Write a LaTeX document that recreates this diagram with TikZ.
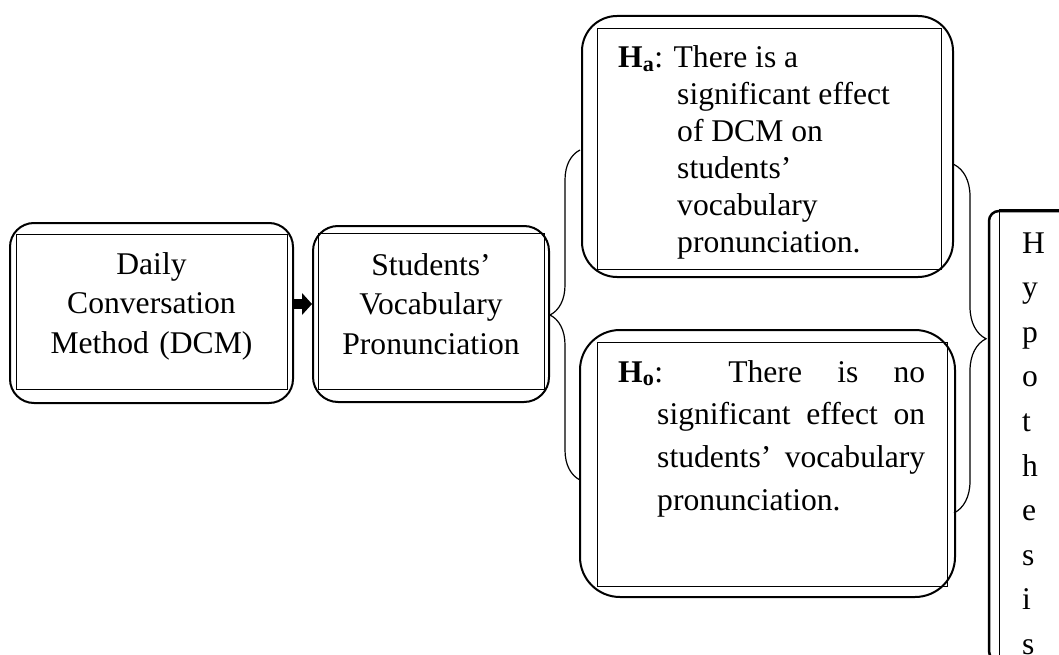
\documentclass[tikz,border=0pt]{standalone}
\usepackage{fontspec}
\setmainfont{Liberation Serif}
\usetikzlibrary{calc,arrows.meta,decorations.pathreplacing}

\tikzset{
  outerbox/.style={draw, line width=2pt, rounded corners=#1, inner sep=0pt},
  outerbox/.default=25,
  innerline/.style={draw, line width=1pt},
  boxtext/.style={inner sep=0pt, font=\fontsize{31.6}{39.5}\selectfont},
  blockarrow/.style={line width=10pt, -{Triangle[length=10pt,width=22pt,line width=0pt]}},
  bracket/.style={decorate, decoration={brace, amplitude=#1}, line width=1.2pt},
}

\begin{document}
\begin{tikzpicture}[x=1pt,y=-1pt]
				\useasboundingbox (0,0) rectangle (1059,655);
				\clip (0,0) rectangle (1059,655);
				
				\node[outerbox=24, minimum width=283, minimum height=180] (dcm) at (151.5,313) {};
				\draw[innerline] ([shift={(7,12)}]dcm.north west) rectangle ([shift={(-7,-15)}]dcm.south east);
				\node[boxtext, text width=270, align=center, anchor=base] (dcmtxt) at (151.5,274) {Daily\\Conversation\\Method (DCM)};
				
				\node[outerbox=25, minimum width=236, minimum height=176] (svp) at (431,314) {};
				\draw[innerline] ([shift={(6,8)}]svp.north west) rectangle ([shift={(-6,-14)}]svp.south east);
				\node[boxtext, text width=224, align=center, anchor=base] (svptxt) at (431,275) {Students'\\Vocabulary\\Pronunciation};
				
				\draw[blockarrow] ([shift={(0,-9)}]dcm.east) -- ([shift={(0,-10)}]svp.west);
				
				\node[outerbox=35, minimum width=371, minimum height=261] (ha) at (767.5,146.5) {};
				\draw[innerline] ([shift={(16,14)}]ha.north west) rectangle ([shift={(-13,-9)}]ha.south east);
				\node[boxtext, font=\fontsize{31.6}{37}\selectfont, text width=300, align=flush left, anchor=base west] (hatxt) at (618,68)
				{\leftskip=59pt\hspace*{-59pt}\textbf{H\textsubscript{a}}: There is a\newline significant effect\newline of DCM on\newline students'\newline vocabulary\newline pronunciation.\par};
				
				\node[outerbox=40, minimum width=375, minimum height=267] (ho) at (767.5,463.5) {};
				\draw[innerline] ([shift={(18,13)}]ho.north west) rectangle ([shift={(-9,-12)}]ho.south east);
				\node[boxtext, font=\fontsize{31.6}{42.7}\selectfont, text width=307, align=justify, anchor=base west] (hotxt) at (618,382)
				{\leftskip=39pt\hspace*{-39pt}\textbf{H\textsubscript{o}}: There is no\linebreak significant effect on\linebreak students' vocabulary\linebreak pronunciation.\par};
				
				\node[outerbox=10, line width=2.5pt, minimum width=101, minimum height=450] (hyp) at (1039.5,436) {};
				\draw[innerline] ([shift={(12,0)}]hyp.north west) rectangle ([shift={(-12,8)}]hyp.south east);
				\node[boxtext, font=\fontsize{31.6}{44.6}\selectfont, text width=30, align=flush left, anchor=base west] (hyptxt) at (1022,253)
				{H\\y\\p\\o\\t\\h\\e\\s\\i\\s};
				
				\draw[bracket=30pt] ([shift={(1,16.5)}]ho.west) -- ([shift={(-1,3.5)}]ha.west);
				\draw[bracket=32pt] ([shift={(0,18)}]ha.east) -- ([shift={(-2,49.5)}]ho.east);
			\end{tikzpicture}
\end{document}
